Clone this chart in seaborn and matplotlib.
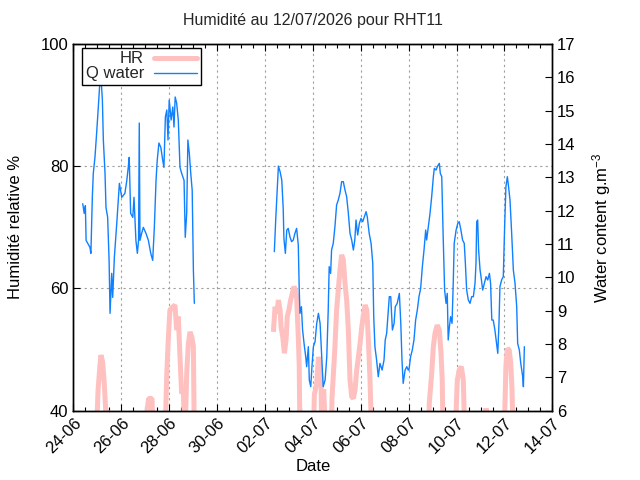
import matplotlib
matplotlib.use('Agg')
import matplotlib.pyplot as plt
import matplotlib.dates as mdates
from matplotlib.lines import Line2D
import pandas as pd
import seaborn as sns

# time is given in days since 24-06-2026 00:00
start = pd.Timestamp('2026-06-24')
end = pd.Timestamp('2026-07-14')

# Q water (g.m-3), first block of data (before the gap)
q_day_1 = [0.39, 0.45, 0.50, 0.53, 0.69, 0.73, 0.79, 0.83, 0.90, 0.97,
           1.04, 1.11, 1.15, 1.21, 1.25, 1.32, 1.36, 1.43, 1.49, 1.53,
           1.60, 1.64, 1.71, 1.81, 1.92, 2.02, 2.15, 2.23, 2.29, 2.33,
           2.39, 2.48, 2.53, 2.61, 2.67, 2.72, 2.75, 2.78, 2.85, 2.92,
           3.03, 3.13, 3.23, 3.31, 3.38, 3.45, 3.50, 3.57, 3.65, 3.73,
           3.78, 3.84, 3.90, 3.95, 4.00, 4.08, 4.15, 4.20, 4.25, 4.31,
           4.38, 4.45, 4.52, 4.62, 4.67, 4.73, 4.78, 4.84, 4.90, 4.96,
           5.01, 5.05]
q_val_1 = [12.21, 11.92, 12.15, 11.11, 10.90, 10.72, 12.40, 13.12, 13.60, 14.33,
           15.11, 15.92, 16.01, 15.32, 14.12, 13.12, 12.10, 11.80, 10.51, 8.92,
           10.12, 9.40, 10.60, 11.62, 12.82, 12.40, 12.52, 12.91, 13.30, 13.60,
           11.92, 11.80, 12.40, 11.11, 10.72, 11.11, 14.63, 11.11, 11.32, 11.50,
           11.32, 11.11, 10.72, 10.51, 11.50, 12.91, 13.51, 14.03, 13.90, 13.51,
           13.30, 14.81, 15.02, 14.12, 15.32, 14.72, 15.11, 14.51, 15.41, 15.23,
           14.72, 13.30, 13.12, 12.91, 11.20, 11.92, 14.12, 13.72, 13.12, 12.61,
           10.21, 9.22]

# Q water, second block (after the gap)
q_day_2 = [8.39, 8.45, 8.51, 8.56, 8.63, 8.70, 8.76, 8.79, 8.85, 8.91,
           8.97, 9.04, 9.11, 9.18, 9.25, 9.32, 9.39, 9.43, 9.46, 9.52,
           9.57, 9.63, 9.70, 9.74, 9.81, 9.85, 9.91, 9.96, 10.02, 10.09,
           10.16, 10.23, 10.30, 10.37, 10.43, 10.51, 10.58, 10.64, 10.68, 10.74,
           10.78, 10.85, 10.92, 10.99, 11.06, 11.13, 11.20, 11.27, 11.34, 11.41,
           11.48, 11.55, 11.62, 11.69, 11.75, 11.80, 11.87, 11.94, 12.01, 12.08,
           12.15, 12.22, 12.27, 12.35, 12.43, 12.50, 12.54, 12.59, 12.66, 12.73,
           12.80, 12.89, 12.97, 13.02, 13.08, 13.14, 13.19, 13.25, 13.32, 13.39,
           13.44, 13.52, 13.61, 13.67, 13.72, 13.77, 13.85, 13.92, 13.98, 14.01,
           14.08, 14.15, 14.22, 14.29, 14.36, 14.43, 14.50, 14.57, 14.64, 14.71,
           14.75, 14.82, 14.89, 14.96, 15.03, 15.07, 15.14, 15.21, 15.28, 15.32,
           15.38, 15.42, 15.44, 15.50, 15.56, 15.61, 15.65, 15.70, 15.75, 15.81,
           15.86, 15.90, 15.98, 16.05, 16.11, 16.18, 16.25, 16.32, 16.36, 16.42,
           16.49, 16.56, 16.63, 16.70, 16.77, 16.81, 16.84, 16.88, 16.92, 16.98,
           17.02, 17.09, 17.16, 17.23, 17.30, 17.37, 17.42, 17.47, 17.53, 17.60,
           17.67, 17.72, 17.77, 17.81, 17.88, 17.95, 18.01, 18.06, 18.12, 18.17,
           18.23, 18.30, 18.37, 18.44, 18.51, 18.55, 18.62, 18.68, 18.76, 18.79,
           18.83]
q_val_2 = [10.77, 11.77, 12.62, 13.34, 13.17, 12.92, 12.07, 11.17, 10.72, 11.42,
           11.47, 11.22, 11.07, 11.12, 11.32, 11.47, 10.97, 9.62, 8.92, 9.12,
           8.42, 8.02, 7.62, 7.32, 7.92, 6.92, 6.72, 7.32, 7.92, 8.07,
           8.62, 8.92, 8.62, 7.62, 6.72, 6.92, 7.62, 9.02, 10.32, 10.12,
           10.82, 11.02, 11.52, 12.17, 12.32, 12.52, 12.87, 12.87, 12.62, 12.42,
           11.92, 11.32, 11.12, 10.82, 11.12, 11.72, 11.27, 11.62, 11.77, 11.67,
           11.82, 11.97, 11.82, 11.32, 11.02, 10.42, 8.82, 7.92, 7.52, 7.02,
           7.42, 7.22, 7.52, 8.12, 8.32, 8.92, 9.42, 9.42, 8.42, 8.62,
           9.12, 9.22, 9.52, 8.62, 7.52, 6.82, 7.22, 7.32, 7.22, 7.22,
           7.62, 7.82, 8.12, 8.72, 9.02, 9.42, 9.67, 10.32, 10.82, 11.42,
           11.12, 11.52, 11.92, 12.42, 13.02, 13.27, 13.22, 13.34, 13.42, 13.12,
           13.02, 11.82, 11.22, 9.62, 9.22, 9.52, 8.12, 8.52, 8.82, 8.62,
           9.82, 11.02, 11.42, 11.62, 11.67, 11.42, 11.12, 11.02, 10.52, 9.62,
           9.32, 9.22, 9.42, 9.42, 9.82, 10.42, 11.67, 11.72, 10.82, 10.22,
           10.02, 9.62, 9.82, 10.02, 9.92, 10.12, 9.82, 8.72, 8.72, 8.42,
           8.02, 7.72, 8.62, 9.72, 9.92, 10.02, 11.62, 12.72, 13.02, 12.72,
           12.32, 11.32, 10.22, 9.82, 9.12, 8.02, 7.82, 7.42, 7.02, 6.72,
           7.92]

# HR (%), values under 40 fall off the bottom of the plot
hr_day_1 = [0.39, 0.95, 1.03, 1.11, 1.15, 1.22, 1.28, 1.35,
            3.05, 3.09, 3.14, 3.28, 3.34,
            3.82, 3.90, 3.96, 4.03, 4.10, 4.24, 4.31, 4.38, 4.45, 4.52,
            4.59, 4.66, 4.73, 4.80, 4.87, 4.94, 5.01, 5.05]
hr_val_1 = [35, 35, 43.4, 47.5, 49.1, 48.0, 45.0, 40.0,
            35, 40.5, 42.0, 42.0, 35,
            35, 46.1, 51.6, 56.5, 56.8, 57.3, 53.2, 55.4, 48.8, 42.8,
            43.1, 35, 46.1, 51.0, 52.9, 52.1, 50.5, 35]

hr_day_2 = [8.35, 8.42, 8.49, 8.56, 8.63, 8.67, 8.74, 8.81, 8.88, 8.93,
            9.00, 9.07, 9.14, 9.21, 9.27, 9.32, 9.39, 9.43, 9.46,
            10.02, 10.06, 10.16, 10.23, 10.30, 10.34, 10.37, 10.45, 10.51,
            10.76, 10.80, 10.85, 10.92, 10.99, 11.06, 11.13, 11.20, 11.27, 11.34,
            11.41, 11.48, 11.55, 11.62, 11.69, 11.76, 11.83, 11.90, 11.97, 12.04,
            12.10, 12.18, 12.25, 12.31, 12.38, 12.46,
            14.82, 14.86, 14.96, 15.03, 15.10, 15.19, 15.28, 15.35, 15.40, 15.44,
            15.93, 16.03, 16.11, 16.20, 16.28, 16.35,
            17.19, 17.23, 17.27,
            17.98, 18.06, 18.12, 18.20, 18.26, 18.31, 18.37,
            18.83]
hr_val_2 = [52.9, 57.0, 55.9, 58.1, 56.5, 53.7, 52.1, 49.4, 51.6, 55.4,
            56.5, 58.1, 59.2, 60.3, 59.8, 58.7, 52.1, 47.2, 35,
            35, 42.6, 44.5, 48.8, 47.2, 44.5, 35, 43.5, 38,
            35, 42.3, 45.6, 50.5, 56.5, 59.8, 63.0, 65.5, 64.7, 60.9,
            58.1, 53.2, 45.0, 42.3, 42.0, 43.4, 46.7, 48.8, 51.0, 53.7,
            55.4, 57.3, 56.5, 52.1, 45.6, 35,
            35, 41.2, 46.1, 50.5, 52.7, 54.0, 53.2, 49.4, 45.0, 35,
            35, 45.0, 46.7, 47.2, 45.0, 35,
            35, 40.4, 35,
            35, 47.2, 50.2, 49.9, 47.8, 43.9, 35,
            35]

HR_COLOR = '#ffc0c0'
Q_COLOR = '#1080ff'


def to_frame(days, vals, seg):
    return pd.DataFrame({'date': start + pd.to_timedelta(days, unit='D'),
                         'val': vals, 'seg': seg})


hr = pd.concat([to_frame(hr_day_1, hr_val_1, 1), to_frame(hr_day_2, hr_val_2, 2)])
q = pd.concat([to_frame(q_day_1, q_val_1, 1), to_frame(q_day_2, q_val_2, 2)])

sns.set_theme(style='white')
plt.rcParams['font.family'] = ['Liberation Sans', 'DejaVu Sans']
plt.rcParams['mathtext.default'] = 'regular'

fig = plt.figure(figsize=(6.4, 4.8), dpi=100)
ax = fig.add_axes([0.1147, 0.1444, 0.7484, 0.7639])
ax2 = ax.twinx()

sns.lineplot(data=hr, x='date', y='val', units='seg', estimator=None, sort=False,
             color=HR_COLOR, lw=3.6, solid_capstyle='butt', solid_joinstyle='bevel',
             ax=ax, legend=False)
sns.lineplot(data=q, x='date', y='val', units='seg', estimator=None, sort=False,
             color=Q_COLOR, lw=1.0, ax=ax2, legend=False)

ax.set_xlim(start, end)
ax.set_ylim(40, 100)
ax2.set_ylim(6, 17)

ax.set_xticks(pd.date_range(start, end, freq='2D'))
ax.set_xticks(pd.date_range(start, end, freq='12h'), minor=True)
ax.xaxis.set_major_formatter(mdates.DateFormatter('%d-%m'))
ax.set_yticks([40, 60, 80, 100])
ax2.set_yticks(range(6, 18))

ax.tick_params(axis='x', which='both', direction='in', top=True, bottom=True,
               colors='black', labelsize=12)
ax.tick_params(axis='x', which='major', length=5, width=0.8)
ax.tick_params(axis='x', which='minor', length=3, width=0.8)
ax.tick_params(axis='y', direction='in', left=True, right=False, length=5,
               width=0.8, colors='black', labelsize=12)
ax2.tick_params(axis='y', direction='in', right=True, length=5, width=0.8,
                colors='black', labelsize=12)
for lbl in ax.get_xticklabels():
    lbl.set_rotation(45)
    lbl.set_ha('right')
    lbl.set_rotation_mode('anchor')

ax.grid(True, which='major', color='#a0a0a0', ls=(0, (2, 3)), lw=0.8)
ax.set_axisbelow(True)
ax2.grid(False)
for a in (ax, ax2):
    for s in a.spines.values():
        s.set_color('black')
        s.set_linewidth(1.0)

ax.set_xlabel('Date', fontsize=12, color='black', labelpad=2)
ax.set_ylabel('Humidité relative %', fontsize=12, color='black', labelpad=13)
ax2.set_ylabel('Water content g.m$^{-3}$', fontsize=12, color='black', labelpad=10)
ax.set_title('Humidité au 12/07/2026 pour RHT11', fontsize=11.5, pad=14)

handles = [Line2D([], [], color=HR_COLOR, lw=3.6), Line2D([], [], color=Q_COLOR, lw=1.0)]
leg = ax2.legend(handles, ['HR', 'Q water'], loc='upper left', bbox_to_anchor=(0.018, 0.99),
                 markerfirst=False, frameon=True, fancybox=False, edgecolor='black',
                 framealpha=1, fontsize=12, handlelength=2.6, labelspacing=0.0,
                 borderpad=0.22, handletextpad=0.6, borderaxespad=0)
leg.get_frame().set_linewidth(1.0)

fig.savefig('out.png', dpi=100)
